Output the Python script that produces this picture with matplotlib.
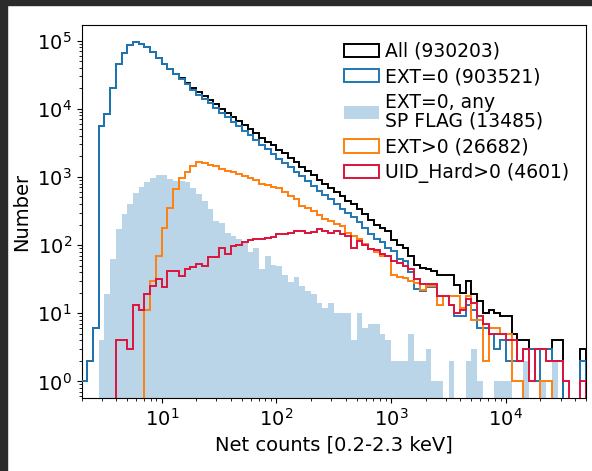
import numpy as np
import matplotlib
matplotlib.use("Agg")
import matplotlib.pyplot as plt
from matplotlib.patches import Rectangle

# log10 bin edges, 0.05 dex wide
log_edges = np.round(np.arange(0.30, 4.701, 0.05), 2)

# counts per bin
all_src = [1, 2, 6, 5500, 8500, 20500, 46000, 65000, 87000, 94000,
           89000, 80000, 69000, 55000, 46200, 38400, 32700, 28400, 24200, 20400,
           17800, 15600, 13600, 11600, 10100, 8700, 7700, 6600, 5800, 5100,
           4350, 3750, 3300, 2900, 2500, 2230, 1900, 1640, 1400, 1220,
           1060, 910, 795, 695, 605, 530, 445, 400, 338, 282,
           232, 200, 180, 160, 119, 100, 92, 70, 51, 46,
           45, 42, 37, 36, 36, 26, 20, 30, 19, 15,
           10, 11, 10, 9, 9, 5, 4, 4, 3, 3,
           3, 3, 4, 4, 0, 0, 0, 3]
ext0 = [1, 2, 6, 5500, 8500, 20500, 46000, 65000, 87000, 94000,
        89000, 80000, 69000, 55000, 46000, 38000, 32000, 27500, 23000, 19000,
        16200, 14000, 12100, 10200, 8800, 7500, 6500, 5500, 4800, 4100,
        3450, 2950, 2550, 2200, 1850, 1620, 1380, 1170, 1020, 870,
        740, 630, 550, 470, 400, 340, 295, 262, 215, 180,
        145, 122, 110, 91, 83, 63, 59, 40, 23, 21,
        24, 24, 18, 18, 13, 9, 9, 13, 11, 6,
        6, 5, 3, 4, 2, 2, 2, 3, 3, 1,
        3, 3, 2, 2, 0, 0, 0, 2]
sp_flag = [0, 0, 0, 4, 19, 62, 170, 282, 400, 590,
           720, 850, 980, 1050, 1050, 930, 880, 870, 830, 690,
           560, 450, 340, 225, 214, 152, 136, 122, 110, 78,
           92, 45, 68, 51, 49, 37, 29, 34, 25, 21,
           19, 14, 12, 14, 10, 10, 10, 4, 10, 6,
           7, 7, 5, 4, 2, 2, 2, 5, 2, 2,
           3, 1, 1, 0, 2, 0, 0, 2, 3, 1,
           0, 0, 1, 1, 1, 0, 0, 2, 0, 0,
           1, 0, 2, 0, 0, 0, 0, 0]
ext_pos = [0, 0, 0, 0, 0, 0, 0, 0, 0, 0,
           0, 11, 30, 69, 177, 355, 660, 950, 1200, 1450,
           1650, 1620, 1520, 1450, 1300, 1230, 1180, 1090, 1030, 980,
           900, 800, 760, 720, 680, 610, 530, 470, 380, 355,
           320, 280, 245, 225, 205, 190, 150, 138, 123, 102,
           87, 78, 70, 69, 36, 34, 33, 30, 28, 22,
           25, 25, 13, 18, 18, 18, 12, 18, 8, 8,
           2, 6, 6, 5, 5, 1, 1, 0, 0, 0,
           1, 1, 0, 0, 0, 0, 0, 0]
uid_hard = [0, 0, 0, 0, 0, 0, 4, 4, 3, 13,
            11, 19, 25, 32, 24, 42, 42, 35, 45, 48,
            52, 50, 66, 66, 92, 75, 97, 100, 112, 118,
            122, 124, 125, 130, 144, 144, 152, 162, 162, 150,
            155, 170, 160, 152, 162, 144, 136, 92, 115, 100,
            87, 84, 74, 70, 59, 55, 50, 45, 32, 27,
            27, 27, 18, 18, 13, 10, 11, 16, 14, 9,
            7, 5, 5, 5, 4, 4, 2, 3, 1, 3,
            3, 2, 2, 2, 1, 0, 0, 1]

labels = ["All (930203)", "EXT=0 (903521)", "EXT=0, any\nSP FLAG (13485)",
          "EXT>0 (26682)", "UID_Hard>0 (4601)"]

edges = 10 ** log_edges
centers = 10 ** (0.5 * (log_edges[:-1] + log_edges[1:]))

plt.rcParams['font.size'] = 14

fig = plt.figure(figsize=(5.92, 4.71), dpi=100)
ax = fig.add_axes([0.1377, 0.155, 0.8523, 0.792])

_, _, p_fill = ax.hist(centers, bins=edges, weights=sp_flag, histtype='stepfilled',
                       color='C0', alpha=0.3, log=True, zorder=1)
_, _, p_all = ax.hist(centers, bins=edges, weights=all_src, histtype='step',
                      color='k', lw=1.4, log=True, zorder=2)
_, _, p_ext0 = ax.hist(centers, bins=edges, weights=ext0, histtype='step',
                       color='C0', lw=1.4, log=True, zorder=3)
_, _, p_ext = ax.hist(centers, bins=edges, weights=ext_pos, histtype='step',
                      color='C1', lw=1.4, log=True, zorder=4)
_, _, p_uid = ax.hist(centers, bins=edges, weights=uid_hard, histtype='step',
                      color='crimson', lw=1.4, log=True, zorder=5)

ax.set_xscale('log')
ax.set_xlim(2.0, 5.0e4)
ax.set_ylim(0.57, 1.7e5)
ax.set_xlabel('Net counts [0.2-2.3 keV]')
ax.set_ylabel('Number')

leg = ax.legend([p_all[0], p_ext0[0], p_fill[0], p_ext[0], p_uid[0]], labels,
                loc='upper right', frameon=False, fontsize=13.5,
                bbox_to_anchor=(1.0, 1.0), labelspacing=0.35, handlelength=1.85,
                handletextpad=0.35)
for t in leg.get_texts():
    t.set_linespacing(1.0)

# dark screenshot border on top and left
fig.patches.append(Rectangle((0, 0.989), 1, 0.011, transform=fig.transFigure,
                             color='#2b2b2b', zorder=10))
fig.patches.append(Rectangle((0, 0), 0.012, 1, transform=fig.transFigure,
                             color='#2b2b2b', zorder=10))

fig.savefig('out.png', dpi=100)
